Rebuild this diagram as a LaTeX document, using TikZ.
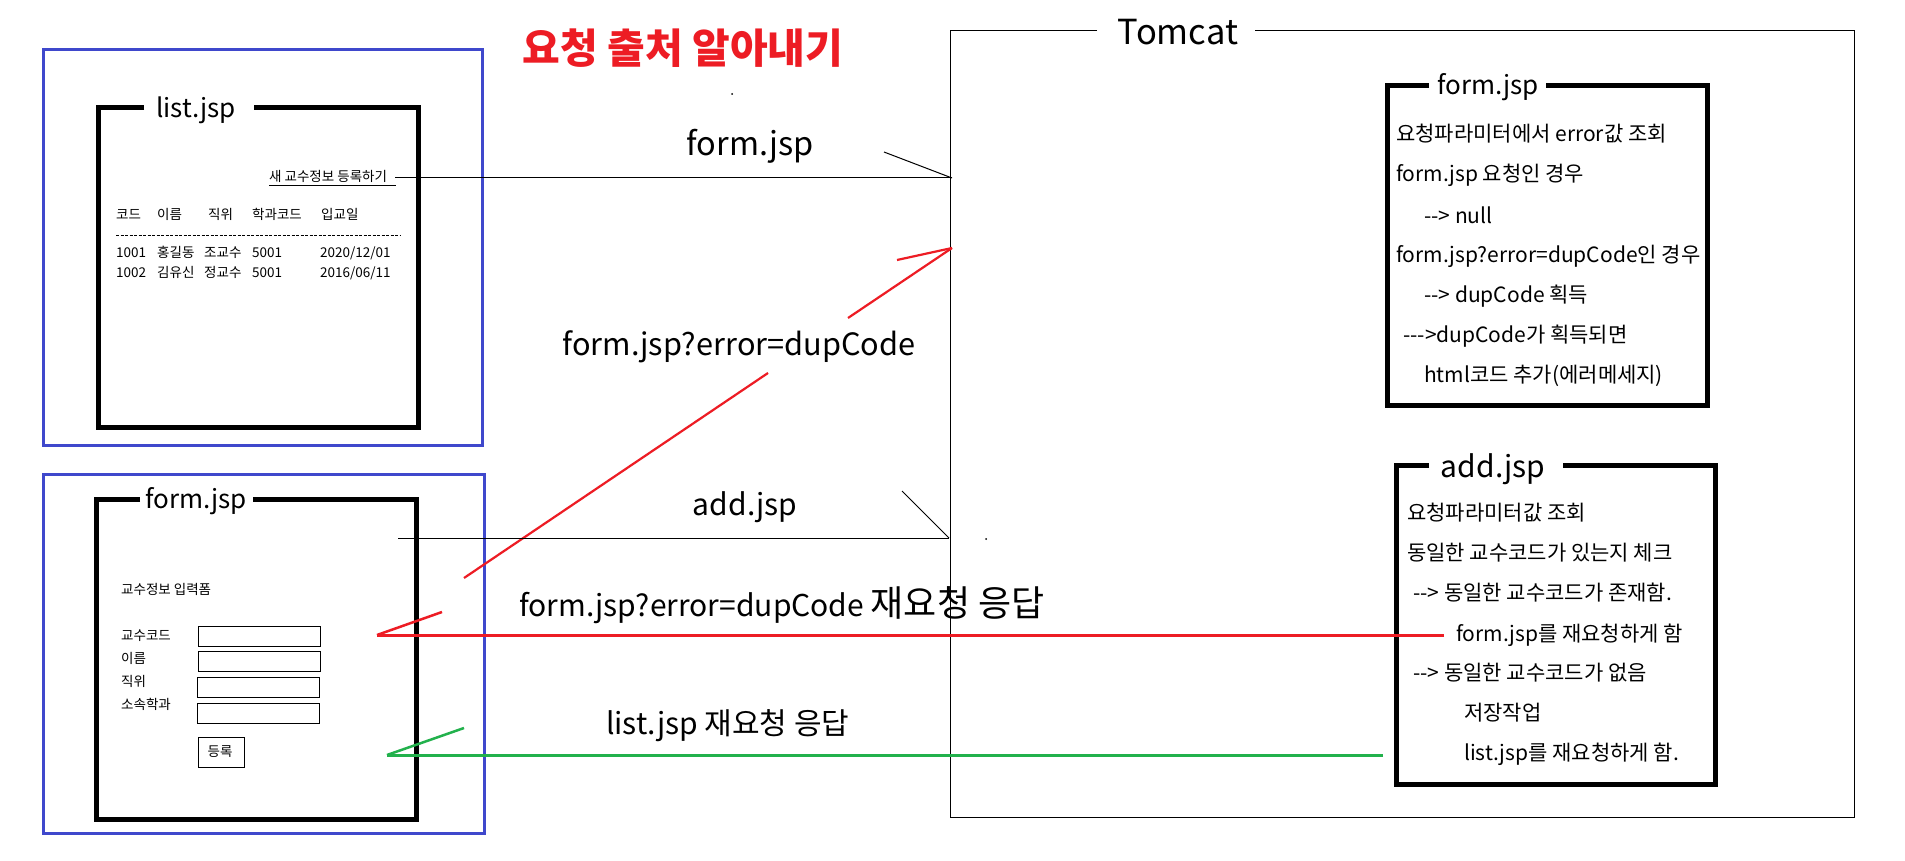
\documentclass[tikz,border=0pt]{standalone}
\usepackage{fontspec}
\setmainfont{Noto Sans CJK KR}
\definecolor{pblue}{HTML}{3F48CC}
\definecolor{pred}{HTML}{ED1C24}
\definecolor{pgreen}{HTML}{22B14C}
\begin{document}
\begin{tikzpicture}[x=1pt,y=-1pt,
  sm/.style={font=\fontsize{13.5}{16}\selectfont,inner sep=0pt,anchor=base west},
  md/.style={font=\fontsize{21}{25}\selectfont,inner sep=0pt,anchor=base west},
  lab/.style={font=\fontsize{30}{36}\selectfont,inner sep=0pt,anchor=base},
  labw/.style={font=\fontsize{30}{36}\selectfont,inner sep=0pt,anchor=base west},
  ttl/.style={font=\fontsize{26}{30}\selectfont,inner sep=0pt,anchor=base},
  hair/.style={line width=1pt},
  frame/.style={line width=5pt},
  outer/.style={draw=pblue,line width=3pt},
  redl/.style={draw=pred,line width=3pt},
  greenl/.style={draw=pgreen,line width=3pt},
]
\useasboundingbox (0,0) rectangle (1905,861);
\fill[white] (0,0) rectangle (1905,861);

% title
\node[font=\fontsize{41}{48}\selectfont\bfseries,text=pred,inner sep=0pt,anchor=base] (title) at (683,64) {요청 출처 알아내기};
\fill (732,94) circle (1pt);
\fill (986,539) circle (1pt);

% ---------------- list.jsp client ----------------
\draw[outer] (43,50) rectangle (482,445);
\draw[frame] (144,108) -- (98,108) -- (98,427) -- (418,427) -- (418,108) -- (254,108);
\node[ttl] (listttl) at (196,118) {list.jsp};
\node[sm] (link) at (269,182) {새 교수정보 등록하기};
\draw[hair] (269,186) -- (396,186);
\node[sm] (h1) at (116,219.5) {코드};
\node[sm] (h2) at (157,219.5) {이름};
\node[sm] (h3) at (208,219.5) {직위};
\node[sm] (h4) at (252,219.5) {학과코드};
\node[sm] (h5) at (321,219.5) {입교일};
\draw[hair,dash pattern=on 3pt off 1.5pt] (116,235) -- (401,235);
\node[sm] (r11) at (116,257.5) {1001};
\node[sm] (r12) at (157,257.5) {홍길동};
\node[sm] (r13) at (204,257.5) {조교수};
\node[sm] (r14) at (252,257.5) {5001};
\node[sm] (r15) at (320,257.5) {2020/12/01};
\node[sm] (r21) at (116,277.5) {1002};
\node[sm] (r22) at (157,277.5) {김유신};
\node[sm] (r23) at (204,277.5) {정교수};
\node[sm] (r24) at (252,277.5) {5001};
\node[sm] (r25) at (320,277.5) {2016/06/11};

% ---------------- form.jsp client ----------------
\draw[outer] (43,474) rectangle (484,833);
\draw[frame] (140,499) -- (96,499) -- (96,819) -- (416,819) -- (416,499) -- (253,499);
\node[ttl] (formttl) at (196,508) {form.jsp};
\node[sm] (fhead) at (121,594.5) {교수정보 입력폼};
\node[sm] (l1) at (121,640.5) {교수코드};
\node[sm] (l2) at (121,663.5) {이름};
\node[sm] (l3) at (121,686.5) {직위};
\node[sm] (l4) at (121,709.5) {소속학과};
\draw[hair] (198,626) rectangle (320,646);
\draw[hair] (198,651) rectangle (320,671);
\draw[hair] (197,677) rectangle (319,697);
\draw[hair] (197,703) rectangle (319,723);
\draw[hair] (198,737) rectangle (244,767);
\node[font=\fontsize{13.5}{16}\selectfont,inner sep=0pt] (btn) at (220,752) {등록};

% ---------------- Tomcat ----------------
\draw[hair] (1097,31) -- (950,31) -- (950,817) -- (1854,817) -- (1854,31) -- (1255,31);
\node[font=\fontsize{34.5}{40}\selectfont,inner sep=0pt,anchor=base] (tomcat) at (1178,45) {Tomcat};

% form.jsp server box
\draw[frame] (1429,86) -- (1387,86) -- (1387,405) -- (1707,405) -- (1707,86) -- (1546,86);
\node[ttl] (sformttl) at (1488,95) {form.jsp};
\node[md] (f1) at (1396,142) {요청파라미터에서 error값 조회};
\node[md] (f2) at (1396,182) {form.jsp 요청인 경우};
\node[md] (f3) at (1424,223) {-{}-> null};
\node[md] (f4) at (1396,262) {form.jsp?error=dupCode인 경우};
\node[md] (f5) at (1424,302) {-{}-> dupCode 획득};
\node[md] (f6) at (1403,342) {-{}-{}->dupCode가 획득되면};
\node[md] (f7) at (1424,382) {html코드 추가(에러메세지)};

% add.jsp server box
\draw[frame] (1429,465) -- (1396,465) -- (1396,784) -- (1715,784) -- (1715,465) -- (1563,465);
\node[font=\fontsize{30}{36}\selectfont,inner sep=0pt,anchor=base] (saddttl) at (1493,477) {add.jsp};
\node[md] (a1) at (1407,520) {요청파라미터값 조회};
\node[md] (a2) at (1407,560) {동일한 교수코드가 있는지 체크};
\node[md] (a3) at (1413,600) {-{}-> 동일한 교수코드가 존재함.};
\node[md] (a4) at (1456,641) {form.jsp를 재요청하게 함};
\node[md] (a5) at (1413,680) {-{}-> 동일한 교수코드가 없음};
\node[md] (a6) at (1464,720) {저장작업};
\node[md] (a7) at (1464,760) {list.jsp를 재요청하게 함.};

% ---------------- connectors ----------------
% request form.jsp
\coordinate (t1) at (952,178);
\draw[hair] (link.east |- t1) ++(8,0) coordinate (s1) -- (t1);
\draw[hair] (884,152) -- (t1);
\node[lab,font=\fontsize{32.5}{38}\selectfont] (lform) at (750,156) {form.jsp};

% request form.jsp?error=dupCode (red diagonal)
\coordinate (rs) at (464,578);
\coordinate (rt) at (952,248);
\draw[pred,line width=2.2pt] (rs) -- (768,373);
\draw[pred,line width=2.2pt] (848,318) -- (rt);
\draw[pred,line width=2.2pt] (897,260) -- (rt);
\node[lab,font=\fontsize{30.7}{36}\selectfont] (lerr) at (739,355) {form.jsp?error=dupCode};

% request add.jsp
\coordinate (s2) at (398,538);
\coordinate (t2) at (949,538);
\draw[hair] (s2) -- (t2);
\draw[hair] (902,491) -- (t2);
\node[lab] (ladd) at (745,515) {add.jsp};

% response form.jsp?error=dupCode (red)
\coordinate (rr1) at (1444,635);
\coordinate (rr2) at (377,635);
\draw[redl] (rr1) -- (rr2);
\draw[pred,line width=2.5pt] (rr2) -- (442,612);
\node[labw] (lresp1) at (519,616) {form.jsp?error=dupCode {\fontsize{36}{40}\selectfont 재요청 응답}};

% response list.jsp (green)
\coordinate (g1) at (1383,755);
\coordinate (g2) at (387,755);
\draw[greenl] (g1) -- (g2);
\draw[pgreen,line width=2.5pt] (g2) -- (464,728);
\node[labw] (lresp2) at (606,734) {list.jsp 재요청 응답};
\end{tikzpicture}
\end{document}
